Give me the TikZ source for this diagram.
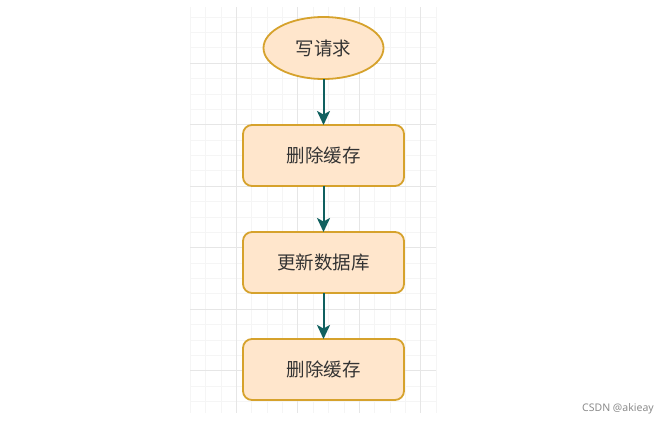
\documentclass[tikz,border=0pt]{standalone}
\usepackage{fontspec}
\newfontfamily\cjk{Noto Sans CJK SC}
\newfontfamily\wmfont{Noto Sans}
\usepackage{tikz}
\usetikzlibrary{arrows.meta,positioning,shapes.geometric}
\definecolor{peach}{HTML}{FFE6CC}
\definecolor{gold}{HTML}{D6A22C}
\definecolor{arrowteal}{HTML}{10605F}
\definecolor{gridmajor}{HTML}{E6E6E6}
\definecolor{gridminor}{HTML}{F5F5F5}

\begin{document}
\begin{tikzpicture}[x=1pt,y=1pt,node distance=46pt,>={Stealth[length=14pt,width=13pt,inset=3.5pt]}, every node/.style={font=\cjk\fontsize{18.5}{21}\selectfont, text=black!80}]
\tikzstyle{box}=[draw=gold, line width=1.8pt, rounded corners=9pt, fill=peach, minimum width=161pt, minimum height=61pt, outer sep=0pt]
\tikzstyle{start}=[ellipse, draw=gold, line width=1.8pt, fill=peach, minimum width=120pt, minimum height=62pt, outer sep=0pt]
\tikzstyle{flow}=[->, draw=arrowteal, line width=2pt]
\useasboundingbox[fill=white] (0,0) rectangle (672,-426);
% grid behind the chart
\foreach \k in {0,...,16} \draw[gridminor] ({190+15.375*\k},-7) -- ({190+15.375*\k},-413);
\foreach \k in {-3,...,22} \draw[gridminor] (190,{-63-15.375*\k}) -- (436,{-63-15.375*\k});
\foreach \x in {236.1,297.6,359.1,420.6} \draw[gridmajor] (\x,-7) -- (\x,-413);
\foreach \y in {63,124.5,186,247.5,309,370.5} \draw[gridmajor] (190,-\y) -- (436,-\y);
% chart
\node[start] (req) at (323.5,-48) {写请求};
\node[box,below=46pt of req] (del1) {删除缓存};
\node[box,below=46pt of del1] (upd) {更新数据库};
\node[box,below=46pt of upd] (del2) {删除缓存};
\draw[flow] (req)--(del1); \draw[flow] (del1)--(upd); \draw[flow] (upd)--(del2);
\node[font=\wmfont\fontsize{10.5}{12}\selectfont, text=black!45] (wm) at (618,-409) {CSDN @akieay};
\end{tikzpicture}
\end{document}
